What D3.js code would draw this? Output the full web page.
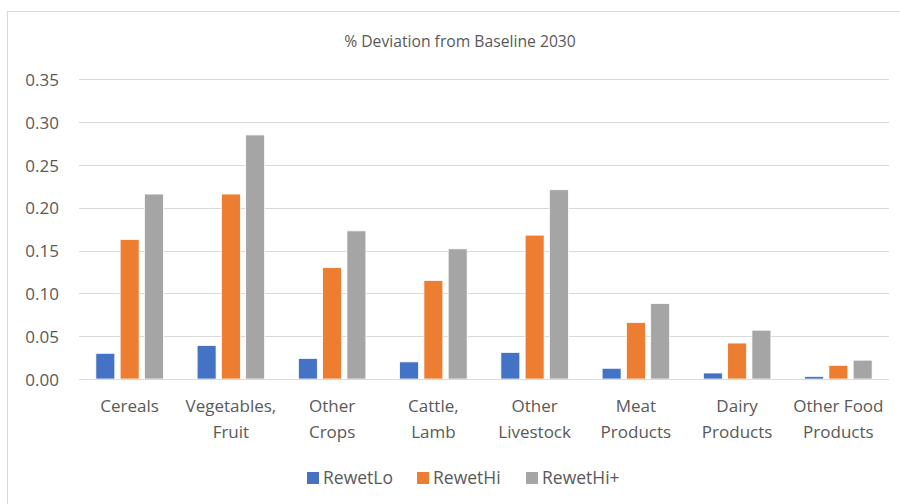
<!DOCTYPE html>
<html>
<head>
<meta charset="utf-8">
<script src="https://cdn.jsdelivr.net/npm/d3@7"></script>
<style>
  html, body { margin: 0; padding: 0; background: #fff; }
  svg { display: block; font-family: "Open Sans", Lato, sans-serif; }
</style>
</head>
<body>
<svg id="chart" width="900" height="504"></svg>
<script>
const categories = [
  ["Cereals"],
  ["Vegetables,", "Fruit"],
  ["Other", "Crops"],
  ["Cattle,", "Lamb"],
  ["Other", "Livestock"],
  ["Meat", "Products"],
  ["Dairy", "Products"],
  ["Other Food", "Products"]
];
const seriesNames = ["RewetLo", "RewetHi", "RewetHi+"];
const rewetLo   = [0.030, 0.039, 0.024, 0.020, 0.031, 0.0125, 0.007, 0.003];
const rewetHi   = [0.163, 0.216, 0.130, 0.115, 0.168, 0.066, 0.042, 0.016];
const rewetHiPl = [0.216, 0.285, 0.173, 0.152, 0.221, 0.088, 0.057, 0.022];
const yTicks = [0, 0.05, 0.10, 0.15, 0.20, 0.25, 0.30, 0.35];
const colors = ["#4472C4", "#ED7D31", "#A5A5A5"];
const title = "% Deviation from Baseline 2030";

const series = [rewetLo, rewetHi, rewetHiPl];
const svg = d3.select("#chart");
const textColor = "#595959";

// chart frame
svg.append("rect")
  .attr("x", 7.5).attr("y", 11.5)
  .attr("width", 910).attr("height", 500)
  .attr("fill", "#fff").attr("stroke", "#D9D9D9").attr("stroke-width", 1);

const plot = { left: 79, right: 889, top: 79.3, bottom: 379 };

const y = d3.scaleLinear().domain([0, 0.35]).range([plot.bottom, plot.top]);
const x = d3.scaleBand()
  .domain(d3.range(categories.length))
  .range([plot.left, plot.right])
  .paddingInner(0).paddingOuter(0);

// inner band for the three series within each category
const groupWidth = 67.5;
const xs = d3.scaleBand()
  .domain(d3.range(series.length))
  .range([0, groupWidth])
  .paddingInner(0.22).paddingOuter(0);
const groupOffset = (x.bandwidth() - groupWidth) / 2;

// gridlines
svg.append("g")
  .selectAll("line")
  .data(yTicks.slice(1))
  .join("line")
  .attr("x1", plot.left).attr("x2", plot.right)
  .attr("y1", d => Math.round(y(d)) + 0.5).attr("y2", d => Math.round(y(d)) + 0.5)
  .attr("stroke", "#D9D9D9").attr("stroke-width", 1);

// y axis labels
const yAxis = d3.axisLeft(y).tickValues(yTicks).tickFormat(d3.format(".2f")).tickSize(0).tickPadding(0);
const yg = svg.append("g").attr("transform", `translate(${plot.left - 20},0)`).call(yAxis);
yg.select(".domain").remove();
yg.selectAll("text")
  .attr("fill", textColor)
  .attr("dy", "0.36em")
  .style("font-size", "17px")
  .style("font-family", "'Open Sans', Lato, sans-serif");

// bars
svg.append("g")
  .selectAll("g")
  .data(series)
  .join("g")
  .attr("fill", (d, i) => colors[i])
  .each(function (vals, si) {
    d3.select(this).selectAll("rect")
      .data(vals)
      .join("rect")
      .attr("x", (v, ci) => x(ci) + groupOffset + xs(si))
      .attr("width", xs.bandwidth())
      .attr("y", v => y(v))
      .attr("height", v => y(0) - y(v))
      .attr("stroke", "#fff")
      .attr("stroke-width", 0.75);
  });

// baseline axis
svg.append("line")
  .attr("x1", plot.left).attr("x2", plot.right)
  .attr("y1", Math.round(y(0)) + 0.5).attr("y2", Math.round(y(0)) + 0.5)
  .attr("stroke", "#D9D9D9").attr("stroke-width", 1);

// category labels
const xg = svg.append("g");
categories.forEach((lines, i) => {
  const t = xg.append("text")
    .attr("x", x(i) + x.bandwidth() / 2)
    .attr("y", 412)
    .attr("text-anchor", "middle")
    .attr("fill", textColor)
    .style("font-size", "17px");
  lines.forEach((ln, k) => {
    t.append("tspan")
      .attr("x", x(i) + x.bandwidth() / 2)
      .attr("dy", k === 0 ? 0 : 26)
      .text(ln);
  });
});

// title
svg.append("text")
  .attr("x", 460).attr("y", 47)
  .attr("text-anchor", "middle")
  .attr("fill", textColor)
  .style("font-size", "15.7px")
  .text(title);

// legend
const legendX = [307, 417, 526];
const lg = svg.append("g");
seriesNames.forEach((name, i) => {
  lg.append("rect")
    .attr("x", legendX[i]).attr("y", 472)
    .attr("width", 12).attr("height", 12)
    .attr("fill", colors[i]);
  lg.append("text")
    .attr("x", legendX[i] + 16).attr("y", 484)
    .attr("fill", textColor)
    .style("font-size", "17.5px")
    .text(name);
});
</script>
</body>
</html>
